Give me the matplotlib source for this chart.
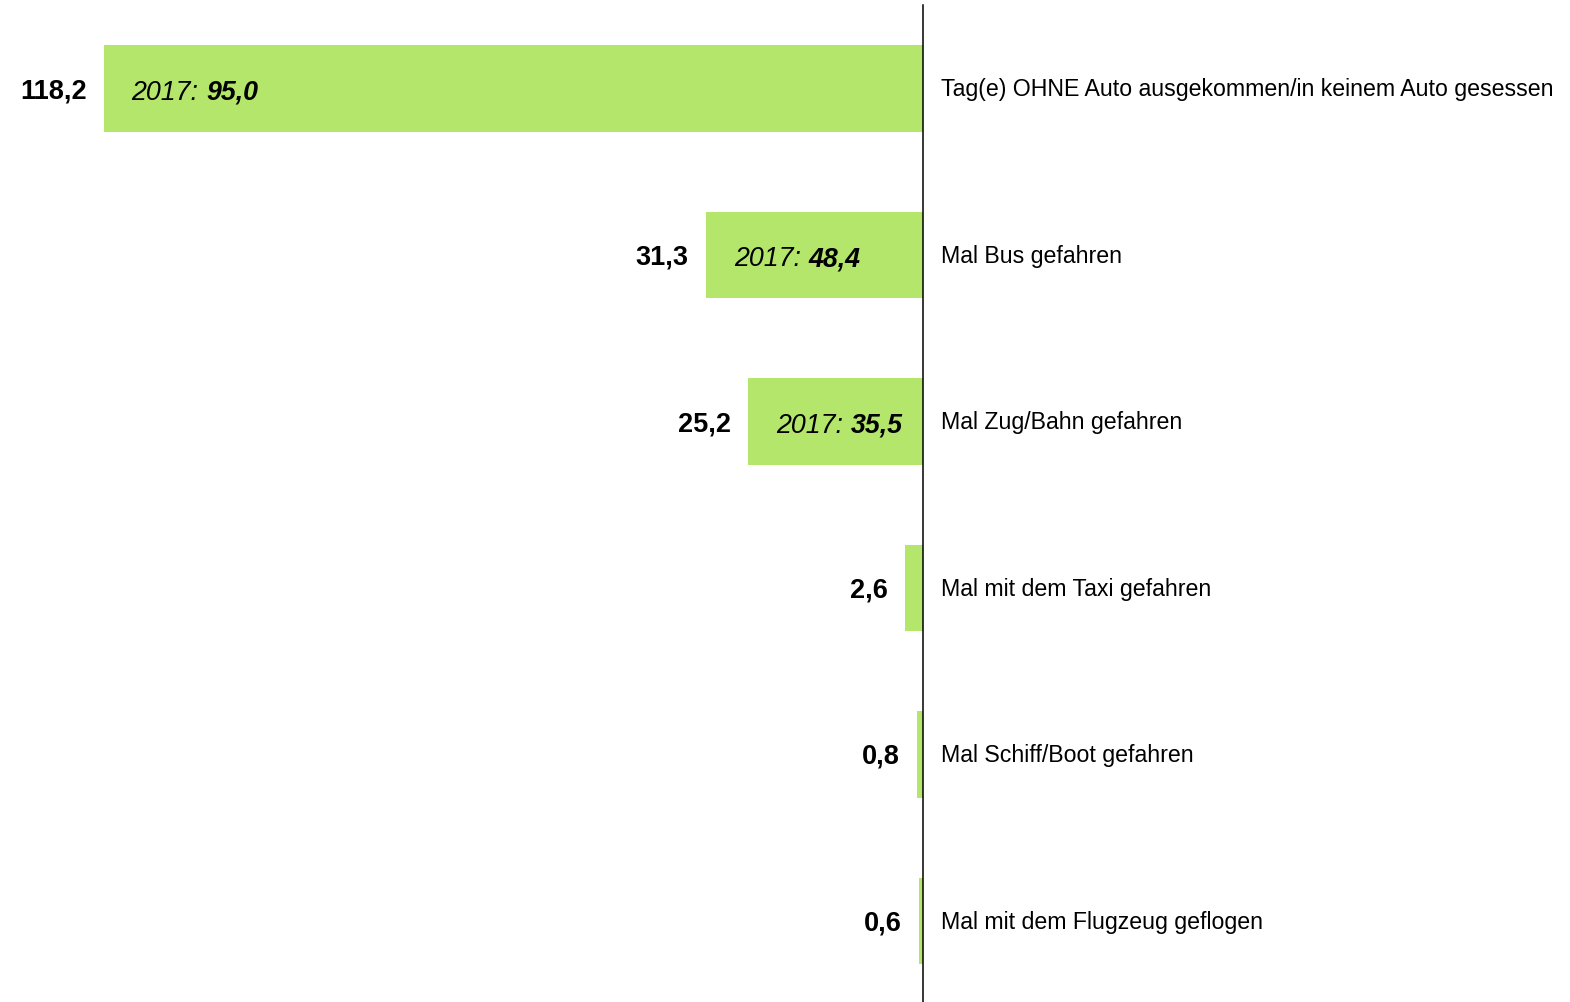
import matplotlib
matplotlib.use("Agg")
import matplotlib.pyplot as plt

categories = [
    "Tag(e) OHNE Auto ausgekommen/in keinem Auto gesessen",
    "Mal Bus gefahren",
    "Mal Zug/Bahn gefahren",
    "Mal mit dem Taxi gefahren",
    "Mal Schiff/Boot gefahren",
    "Mal mit dem Flugzeug geflogen",
]
values = [118.2, 31.3, 25.2, 2.6, 0.8, 0.6]
values_2017 = [95.0, 48.4, 35.5, None, None, None]

def de(v):
    return f"{v:.1f}".replace(".", ",")

plt.rcParams['font.family'] = ['Liberation Sans', 'DejaVu Sans']

fig = plt.figure(figsize=(15.70, 10.02), dpi=100)
ax = fig.add_axes([0, 0, 1, 1])
px_per_unit = 6.93
ax.set_xlim(-923 / px_per_unit, (1570 - 923) / px_per_unit)
ax.set_ylim((1002 - 88.5) / 166.5, -88.5 / 166.5)
ax.axis('off')

color = "#B3E66A"
ys = list(range(len(categories)))
ax.barh(ys, [-v for v in values], height=0.52, color=color, edgecolor='none')
ax.axvline(0, ymin=0, ymax=1 - 5 / 1002, color='black', lw=1.1)

for y, v, v17, cat in zip(ys, values, values_2017, categories):
    ax.annotate(de(v), xy=(-v, y), xytext=(-12.5, -1.8), textcoords='offset points',
                ha='right', va='center', fontsize=19.5, fontweight='bold')
    ax.annotate(cat, xy=(0, y), xytext=(13, -1), textcoords='offset points',
                ha='left', va='center', fontsize=16.7)
    if v17 is not None:
        t1 = ax.annotate("2017: ", xy=(-v, y), xytext=(20, -3), textcoords='offset points',
                         ha='left', va='center', fontsize=19.3, fontstyle='italic')
        ax.annotate(de(v17), xy=(1, 0), xycoords=t1, ha='left', va='bottom',
                    fontsize=19.3, fontstyle='italic', fontweight='bold')

fig.savefig("out.png", dpi=100, facecolor='white')
